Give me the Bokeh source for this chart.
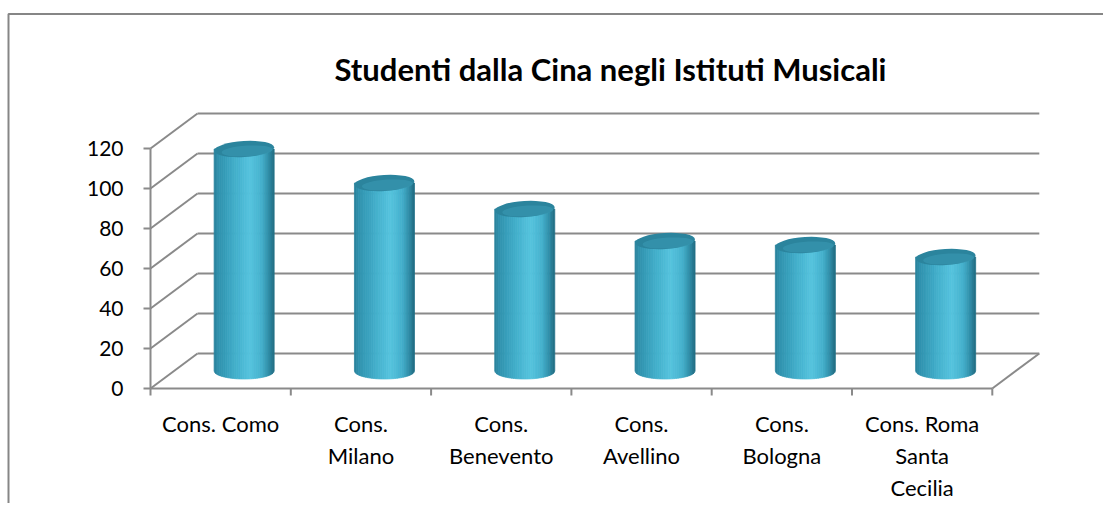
import numpy as np
from bokeh.plotting import figure
from bokeh.models import Range1d
from bokeh.core.properties import value
from bokeh.embed import file_html
from bokeh.resources import INLINE

# ---------------- data ----------------
title_text = "Studenti dalla Cina negli Istituti Musicali"
categories = ["Cons. Como", "Cons. Milano", "Cons. Benevento", "Cons. Avellino",
              "Cons. Bologna", "Cons. Roma Santa Cecilia"]
category_labels = ["Cons. Como", "Cons.\nMilano", "Cons.\nBenevento", "Cons.\nAvellino",
                   "Cons.\nBologna", "Cons. Roma\nSanta\nCecilia"]
students = [111, 94, 81, 65, 63, 57]
y_ticks = [0, 20, 40, 60, 80, 100, 120]
y_tick_labels = ["0", "20", "40", "60", "80", "100", "120"]

# ---------------- layout (pixels) ----------------
W, H = 1103, 503          # canvas size
ORIG_X, ORIG_Y = 150, 388  # canvas position of (category 0, value 0)
PX_CAT = 140.3            # pixels per category
PX_VAL = 2.0              # pixels per value unit
DEPTH_PX = (47, 35)       # oblique depth offset in pixels

DX = DEPTH_PX[0] / PX_CAT
DY = DEPTH_PX[1] / PX_VAL
N = len(categories)


def cx(px):
    return (px - ORIG_X) / PX_CAT


def vy(py):
    return (ORIG_Y - py) / PX_VAL


p = figure(width=W, height=H,
           x_range=Range1d(cx(0), cx(W)),
           y_range=Range1d(vy(H), vy(0)),
           output_backend="svg", toolbar_location=None,
           x_axis_type=None, y_axis_type=None, min_border=0,
           outline_line_color=None, background_fill_color="white",
           border_fill_color="white")
p.grid.visible = False

GRID = "#8a8a8a"
LW = 2

# outer chart border (top & left visible)
p.line(x=[cx(8), cx(8), cx(W + 20)],
       y=[vy(H + 20), vy(13.5), vy(13.5)],
       line_color="#868686", line_width=2)

# back wall gridlines
p.segment(x0=[DX] * len(y_ticks), y0=[t + DY for t in y_ticks],
          x1=[N + DX] * len(y_ticks), y1=[t + DY for t in y_ticks],
          line_color=GRID, line_width=LW)
# side wall diagonals
p.segment(x0=[0] * len(y_ticks), y0=y_ticks,
          x1=[DX] * len(y_ticks), y1=[t + DY for t in y_ticks],
          line_color=GRID, line_width=LW)
# front vertical axis line
p.segment(x0=[0], y0=[0], x1=[0], y1=[max(y_ticks)], line_color=GRID, line_width=LW)
# y tick marks
p.segment(x0=[-7 / PX_CAT] * len(y_ticks), y0=y_ticks, x1=[0] * len(y_ticks), y1=y_ticks,
          line_color=GRID, line_width=LW)
# floor front edge and right edge
p.segment(x0=[0, N], y0=[0, 0], x1=[N, N + DX], y1=[0, DY], line_color=GRID, line_width=LW)
# category tick marks
p.segment(x0=list(range(N + 1)), y0=[0] * (N + 1), x1=list(range(N + 1)),
          y1=[-7 / PX_VAL] * (N + 1), line_color=GRID, line_width=LW)

# ---------------- cylinders ----------------
stops_t = [0.0, 0.08, 0.35, 0.60, 0.80, 0.93, 1.0]
stops_rgb = np.array([(42, 128, 154), (48, 146, 174), (66, 174, 202), (86, 196, 222),
                      (68, 176, 204), (44, 136, 162), (32, 106, 128)], dtype=float)

a = 30 / PX_CAT          # half width (category units)
b = 8 / PX_VAL           # half height of the ellipse (value units)
nstrips = 32
xs, ys, cols = [], [], []
for i, v in enumerate(students):
    xc = i + 0.5 + DX / 2
    yb = DY / 2
    yt = v + DY / 2
    for k in range(nstrips):
        u0 = -1 + 2 * k / nstrips
        u1 = -1 + 2 * (k + 1) / nstrips
        uu = np.linspace(u1, u0, 4)
        bottom = yb - b * np.sqrt(np.clip(1 - uu ** 2, 0, 1))
        xs.append([xc + u0 * a, xc + u1 * a] + list(xc + uu * a))
        ys.append([yt, yt] + list(bottom))
        t = (k + 0.5) / nstrips
        rgb = [np.interp(t, stops_t, stops_rgb[:, j]) for j in range(3)]
        cols.append("#%02x%02x%02x" % tuple(int(round(c)) for c in rgb))
p.patches(xs=xs, ys=ys, fill_color=cols, line_color=cols, line_width=0.8)

top_x = [i + 0.5 + DX / 2 for i in range(N)]
top_y = [v + DY / 2 for v in students]
p.ellipse(x=top_x, y=top_y, width=2 * a, height=2 * b, angle=0.06,
          fill_color="#2b849d", line_color=None)
p.ellipse(x=[x + 0.1 * a for x in top_x], y=[y - 0.25 * b for y in top_y],
          width=1.7 * a, height=1.35 * b, angle=0.06,
          fill_color="#3a9bb5", fill_alpha=0.55, line_color=None)

# ---------------- texts ----------------
FONT = "Lato"
p.text(x=[cx(123)] * len(y_ticks), y=y_ticks, text=y_tick_labels,
       text_align="right", text_baseline="middle",
       text_font=value(FONT), text_font_size="21px", text_color="black")
p.text(x=[i + 0.5 for i in range(N)], y=[vy(409)] * N, text=category_labels,
       text_align="center", text_baseline="top", text_line_height=1.2,
       text_font=value(FONT), text_font_size="22px", text_color="black")
p.text(x=[cx(610)], y=[vy(68)], text=[title_text],
       text_align="center", text_baseline="middle",
       text_font=value(FONT), text_font_style="bold", text_font_size="31px",
       text_color="black")

open("out.html", "w").write(file_html(p, INLINE))
